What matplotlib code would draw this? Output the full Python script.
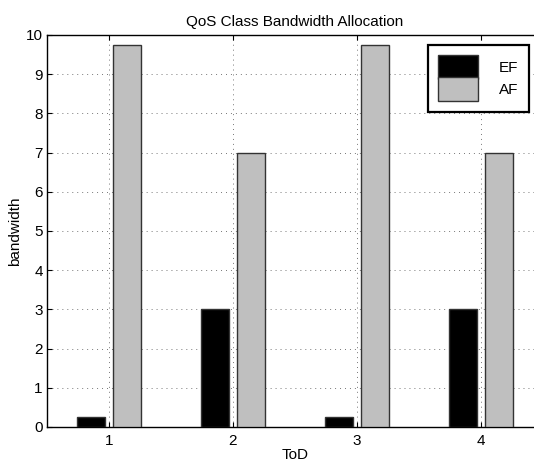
import numpy as np
import matplotlib.pyplot as plt
from matplotlib.patches import Patch

tod = [1, 2, 3, 4]
ef_bandwidth = [0.25, 3.0, 0.25, 3.0]
af_bandwidth = [9.75, 7.0, 9.75, 7.0]

plt.rcParams['font.family'] = ['Liberation Sans', 'DejaVu Sans']
plt.rcParams['font.size'] = 11

fig = plt.figure(figsize=(5.34, 4.62), dpi=100)
# axes runs a little past the right edge, like the cropped original
ax = fig.add_axes([0.088, 0.0758, 0.9288, 0.8485])

x = np.array(tod)
barWidth = 0.2286
ax.bar(x - 0.143, ef_bandwidth, width=barWidth, color='black', edgecolor='#333333', linewidth=1.0, zorder=3)
ax.bar(x + 0.143, af_bandwidth, width=barWidth, color='#bfbfbf', edgecolor='#333333', linewidth=1.0, zorder=3)

ax.set_xlim(0.5, 4.5)
ax.set_ylim(0, 10)
ax.set_xticks(tod)
ax.set_yticks(range(0, 11))
ax.grid(True, linestyle=(0, (1, 4.1)), color='#777777', linewidth=0.7, zorder=0)
ax.tick_params(axis='x', direction='in', top=True, length=3.5, width=0.8, pad=5.2)
ax.tick_params(axis='y', direction='in', right=True, length=3.5, width=0.8, pad=3)
for s in ax.spines.values():
    s.set_linewidth(1.0)

ax.set_title('QoS Class Bandwidth Allocation', fontsize=11, pad=6.5)
ax.set_xlabel('ToD', labelpad=0)
ax.set_ylabel('bandwidth', labelpad=2.5)

handles = [Patch(facecolor='black', edgecolor='#333333'), Patch(facecolor='#bfbfbf', edgecolor='#333333')]
leg = ax.legend(handles, ['EF', 'AF'], loc='upper right', bbox_to_anchor=(529 / 534, 1 - 45 / 462),
                bbox_transform=fig.transFigure, borderaxespad=0, fancybox=False, framealpha=1,
                edgecolor='black', labelspacing=-0.15, handleheight=2.05, handlelength=2.62,
                handletextpad=1.37, borderpad=0.68, fontsize=11)
leg.get_frame().set_linewidth(1.6)

fig.savefig('out.png', dpi=100)
